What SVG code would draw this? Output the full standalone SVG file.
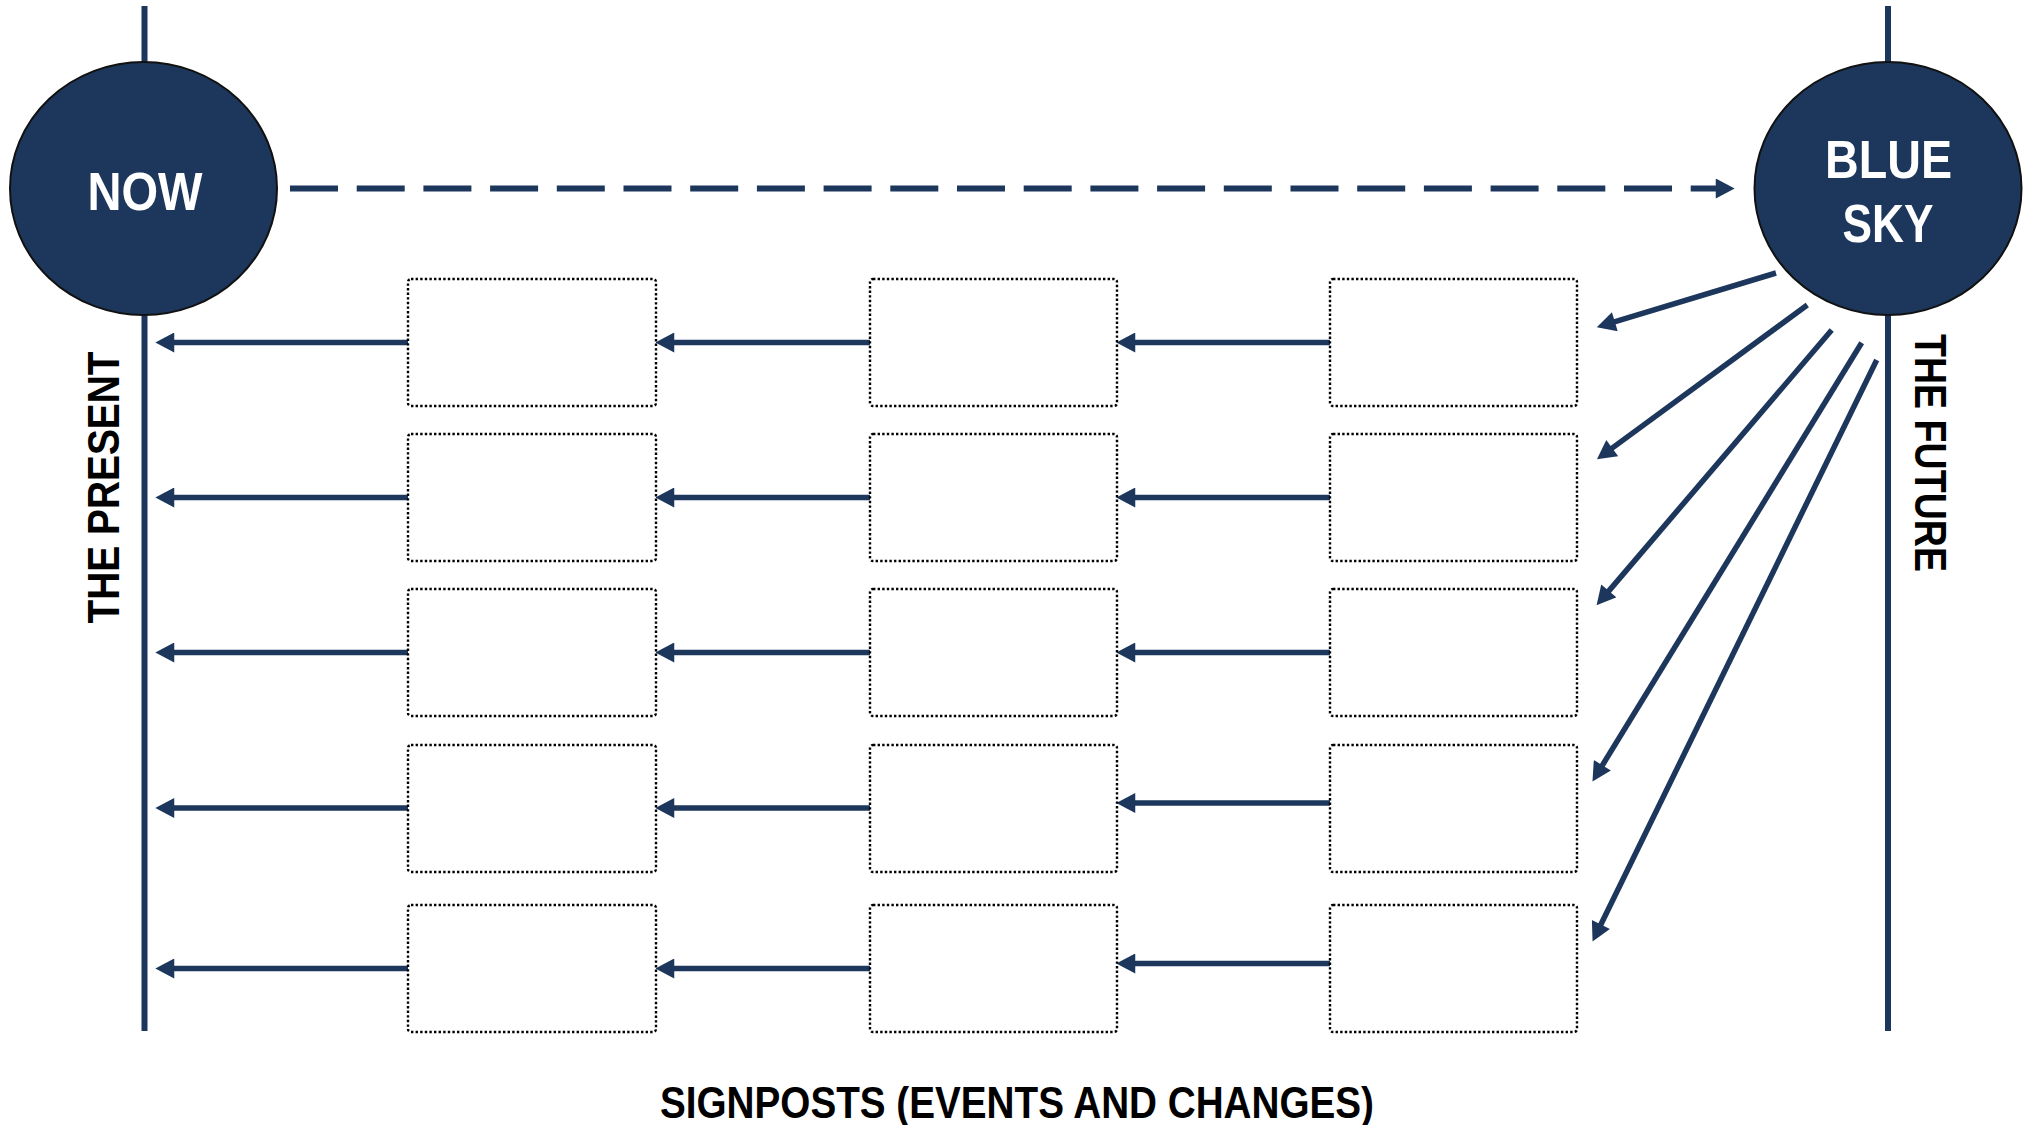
<svg xmlns="http://www.w3.org/2000/svg" width="2029" height="1125" viewBox="0 0 2029 1125">
<style>
.ax{stroke:#1d375c;stroke-width:6;fill:none}
.ar{stroke:#1d375c;stroke-width:5.5;fill:none;marker-end:url(#ah)}
.dash{stroke:#1d375c;stroke-width:6;fill:none;stroke-dasharray:48 18.7;marker-end:url(#ah)}
.circ{fill:#1d375c;stroke:#111;stroke-width:2}
.box{fill:#fff;stroke:#000;stroke-width:2.4;stroke-dasharray:2.4 2.2}
.ct{font-family:"Liberation Sans",Arial,sans-serif;font-weight:bold;font-size:53.5px;fill:#fff;text-anchor:middle}
.lb{font-family:"Liberation Sans",Arial,sans-serif;font-weight:bold;fill:#000;text-anchor:middle}
</style>
<defs>
<marker id="ah" markerUnits="userSpaceOnUse" markerWidth="20" markerHeight="20" viewBox="0 -9 17 18" refX="2" refY="0" orient="auto">
<path d="M0,-9 L17,0 L0,9 z" fill="#1d375c"/>
</marker>
</defs>
<rect width="2029" height="1125" fill="#fff"/>
<g id="axes">
<line class="ax" x1="144.5" y1="6" x2="144.5" y2="1031"/>
<line class="ax" x1="1888" y1="6" x2="1888" y2="1031"/>
</g>
<g id="connectors">
<line class="dash" x1="290" y1="188.5" x2="1718" y2="188.5"/>
<line class="ar" x1="408" y1="342.5" x2="172" y2="342.5"/>
<line class="ar" x1="408" y1="497.5" x2="172" y2="497.5"/>
<line class="ar" x1="408" y1="652.5" x2="172" y2="652.5"/>
<line class="ar" x1="408" y1="808" x2="172" y2="808"/>
<line class="ar" x1="408" y1="968.5" x2="172" y2="968.5"/>
<line class="ar" x1="870" y1="342.5" x2="672" y2="342.5"/>
<line class="ar" x1="870" y1="497.5" x2="672" y2="497.5"/>
<line class="ar" x1="870" y1="652.5" x2="672" y2="652.5"/>
<line class="ar" x1="870" y1="808" x2="672" y2="808"/>
<line class="ar" x1="870" y1="968.5" x2="672" y2="968.5"/>
<line class="ar" x1="1330" y1="342.5" x2="1133" y2="342.5"/>
<line class="ar" x1="1330" y1="497.5" x2="1133" y2="497.5"/>
<line class="ar" x1="1330" y1="652.5" x2="1133" y2="652.5"/>
<line class="ar" x1="1330" y1="803" x2="1133" y2="803"/>
<line class="ar" x1="1330" y1="963.5" x2="1133" y2="963.5"/>
<line class="ar" x1="1776" y1="273" x2="1612.7" y2="322.4"/>
<line class="ar" x1="1807.3" y1="305" x2="1610.4" y2="449.4"/>
<line class="ar" x1="1831.7" y1="330" x2="1607.4" y2="592.6"/>
<line class="ar" x1="1861.7" y1="342.7" x2="1601.2" y2="767.2"/>
<line class="ar" x1="1876.7" y1="360" x2="1599.9" y2="926.5"/>
</g>
<g id="now">
<ellipse class="circ" cx="143.5" cy="188.5" rx="133.5" ry="126.5"/>
<text class="ct" x="145" y="210" textLength="115" lengthAdjust="spacingAndGlyphs">NOW</text>
</g>
<g id="bluesky">
<ellipse class="circ" cx="1888" cy="188.5" rx="133.5" ry="126.5"/>
<text class="ct" x="1888.5" y="178" textLength="127" lengthAdjust="spacingAndGlyphs">BLUE</text>
<text class="ct" x="1888" y="242" textLength="91" lengthAdjust="spacingAndGlyphs">SKY</text>
</g>
<g id="signposts">
<rect class="box" x="408" y="279" width="248" height="127" rx="3"/>
<rect class="box" x="408" y="434" width="248" height="127" rx="3"/>
<rect class="box" x="408" y="589" width="248" height="127" rx="3"/>
<rect class="box" x="408" y="745" width="248" height="127" rx="3"/>
<rect class="box" x="408" y="905" width="248" height="127" rx="3"/>
<rect class="box" x="870" y="279" width="247" height="127" rx="3"/>
<rect class="box" x="870" y="434" width="247" height="127" rx="3"/>
<rect class="box" x="870" y="589" width="247" height="127" rx="3"/>
<rect class="box" x="870" y="745" width="247" height="127" rx="3"/>
<rect class="box" x="870" y="905" width="247" height="127" rx="3"/>
<rect class="box" x="1330" y="279" width="247" height="127" rx="3"/>
<rect class="box" x="1330" y="434" width="247" height="127" rx="3"/>
<rect class="box" x="1330" y="589" width="247" height="127" rx="3"/>
<rect class="box" x="1330" y="745" width="247" height="127" rx="3"/>
<rect class="box" x="1330" y="905" width="247" height="127" rx="3"/>
</g>
<g id="labels">
<text class="lb" font-size="45" transform="translate(118.5,487.5) rotate(-90)" textLength="272" lengthAdjust="spacingAndGlyphs">THE PRESENT</text>
<text class="lb" font-size="44" transform="translate(1915,453) rotate(90)" textLength="238" lengthAdjust="spacingAndGlyphs">THE FUTURE</text>
<text class="lb" font-size="44" x="1017" y="1118" textLength="714" lengthAdjust="spacingAndGlyphs">SIGNPOSTS (EVENTS AND CHANGES)</text>
</g>
</svg>
